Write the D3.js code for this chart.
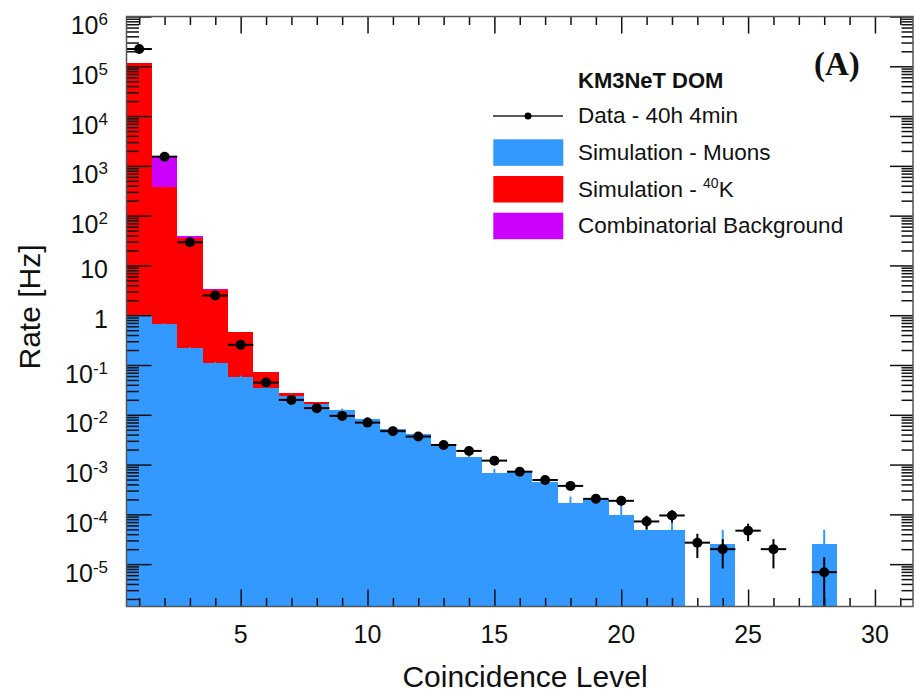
<!DOCTYPE html>
<html>
<head>
<meta charset="utf-8">
<script src="https://cdn.jsdelivr.net/npm/d3@7"></script>
<style>
  body { margin: 0; background: #fff; }
  svg { display: block; }
  text { font-family: "Liberation Sans", Arial, Helvetica, sans-serif; fill: #111; }
</style>
</head>
<body>
<svg id="chart"></svg>
<script>
// Coincidence levels (bin centres)
const levels = [1, 2, 3, 4, 5, 6, 7, 8, 9, 10, 11, 12, 13, 14, 15, 16,
                17, 18, 19, 20, 21, 22, 23, 24, 25, 26, 27, 28, 29, 30, 31];

// Simulation - muons [Hz]
const muons = [1.0, 0.67, 0.22, 0.11, 0.058, 0.035, 0.024, 0.0163, 0.0125, 0.0084,
               0.0051, 0.0041, 0.0024, 0.00145, 0.00067, 0.00076, 0.00044, 0.000173,
               0.0002, 9.8e-5, 4.9e-5, 4.9e-5, 0, 2.5e-5, 0, 0, 0, 2.5e-5, 0, 0, 0];
const muonErr = [0.02, 0.015, 0.008, 0.005, 0.003, 0.002, 0.0015, 0.001, 0.0008, 0.0006,
                 0.0004, 0.0003, 0.0002, 0.00006, 0.00015, 0.00012, 0.00008, 0.000055,
                 0.00005, 0.000065, 0.000029, 0.000029, 0, 0.000024, 0, 0, 0, 0.000024, 0, 0, 0];

// Simulation - 40K [Hz] (stacked on muons)
const k40 = [1.15e5, 381, 35.5, 3.1, 0.40, 0.039, 0.0039, 0.0016, 0, 0,
             0, 0, 0, 0, 0, 0, 0, 0, 0, 0, 0, 0, 0, 0, 0, 0, 0, 0, 0, 0, 0];

// Combinatorial background [Hz] (stacked on top)
const comb = [0, 1220, 3.4, 0.15, 0, 0, 0, 0, 0, 0,
              0, 0, 0, 0, 0, 0, 0, 0, 0, 0, 0, 0, 0, 0, 0, 0, 0, 0, 0, 0, 0];

// Data - 40h 4min [Hz]
const rate = [2.22e5, 1530, 29.2, 2.48, 0.254, 0.0444, 0.0199, 0.0136, 0.0095, 0.00697,
              0.00469, 0.00365, 0.00247, 0.00188, 0.0012, 0.00072, 0.00049, 0.000373,
              0.000205, 0.000187, 7.2e-5, 9.5e-5, 2.7e-5, 2.0e-5, 4.7e-5, 2.0e-5, null,
              6.9e-6, null, null, null];
const rateErr = [1.2, 0.1, 0.014, 0.004, 0.0013, 0.00055, 0.00037, 0.00031, 0.00026, 0.00022,
                 0.00018, 0.00016, 0.00013, 0.00011, 9.1e-5, 7.1e-5, 5.8e-5, 5.1e-5,
                 3.8e-5, 3.6e-5, 2.2e-5, 2.6e-5, 1.37e-5, 1.18e-5, 1.8e-5, 1.18e-5, null,
                 6.9e-6, null, null, null];

// Tick labels
const xTicks = [5, 10, 15, 20, 25, 30];
const yTickExp = [-5, -4, -3, -2, -1, 0, 1, 2, 3, 4, 5, 6];

// Legend
const legendTitle = "KM3NeT DOM";
const legendItems = [
  {key: "data", label: "Data - 40h 4min"},
  {key: "muons", label: "Simulation - Muons"},
  {key: "k40", label: "Simulation - ", sup: "40", after: "K"},
  {key: "comb", label: "Combinatorial Background"}
];

const colors = {muons: "#3399ff", k40: "#ff0000", comb: "#cc00ff"};

const width = 916, height = 694;
const margin = {top: 16.5, right: 3, bottom: 87.5, left: 126.5};
const yMin = 1.41e-6;

const svg = d3.select("#chart")
  .attr("width", width)
  .attr("height", height);

const x = d3.scaleLinear()
  .domain([0.5, 31.5])
  .range([margin.left, width - margin.right]);

const y = d3.scaleLog()
  .domain([yMin, 1e6])
  .range([height - margin.bottom, margin.top]);

// stacked histogram
const rows = levels.map((lv, i) => ({lv, muons: muons[i], k40: k40[i], comb: comb[i]}));
const stacked = d3.stack().keys(["muons", "k40", "comb"])(rows);

stacked.forEach(layer => {
  svg.append("g")
    .attr("fill", colors[layer.key])
    .attr("shape-rendering", "crispEdges")
    .selectAll("rect")
    .data(layer.filter(d => d[1] > d[0]))
    .enter().append("rect")
    .attr("x", d => x(d.data.lv - 0.5))
    .attr("width", d => x(d.data.lv + 0.5) - x(d.data.lv - 0.5))
    .attr("y", d => y(d[1]))
    .attr("height", d => y(Math.max(d[0], yMin)) - y(d[1]));
});

// MC errors on muons
svg.append("g")
  .selectAll("line")
  .data(levels.map((lv, i) => ({lv, v: muons[i], e: muonErr[i]})).filter(d => d.v > 0 && d.e > 0))
  .enter().append("line")
  .attr("x1", d => x(d.lv))
  .attr("x2", d => x(d.lv))
  .attr("y1", d => y(Math.max(d.v - d.e, yMin)))
  .attr("y2", d => y(d.v + d.e))
  .attr("stroke", colors.muons)
  .attr("stroke-width", 2);

// data points with error bars
const pts = levels.map((lv, i) => ({lv, v: rate[i], e: rateErr[i]})).filter(d => d.v != null);
const dataG = svg.append("g").attr("stroke", "#000").attr("stroke-width", 2);

dataG.selectAll(".hbar")
  .data(pts)
  .enter().append("line")
  .attr("x1", d => x(d.lv - 0.5))
  .attr("x2", d => x(d.lv + 0.5))
  .attr("y1", d => y(d.v))
  .attr("y2", d => y(d.v));

dataG.selectAll(".vbar")
  .data(pts)
  .enter().append("line")
  .attr("x1", d => x(d.lv))
  .attr("x2", d => x(d.lv))
  .attr("y1", d => y(Math.max(d.v - d.e, yMin)))
  .attr("y2", d => y(d.v + d.e));

svg.append("g")
  .selectAll("circle")
  .data(pts)
  .enter().append("circle")
  .attr("cx", d => x(d.lv))
  .attr("cy", d => y(d.v))
  .attr("r", 5)
  .attr("fill", "#000");

// axes (ticks pointing inwards, on all four sides)
const xMinor = levels.filter(v => !xTicks.includes(v));
const yMajor = yTickExp.map(e => Math.pow(10, e));
const yMinor = [];
for (let k = -6; k <= 5; k++) {
  for (let m = 2; m <= 9; m++) {
    const v = m * Math.pow(10, k);
    if (v > yMin && v < 1e6) yMinor.push(v);
  }
}

function addAxis(axis, tx, ty) {
  const g = svg.append("g")
    .attr("transform", `translate(${tx},${ty})`)
    .call(axis.tickFormat("").tickSizeOuter(0));
  g.select(".domain").remove();
  g.selectAll("line").attr("stroke", "#111").attr("stroke-width", 1.5);
}

const bottomY = height - margin.bottom, rightX = width - margin.right;
addAxis(d3.axisBottom(x).tickValues(xTicks).tickSizeInner(-17), 0, bottomY);
addAxis(d3.axisBottom(x).tickValues(xMinor).tickSizeInner(-8.5), 0, bottomY);
addAxis(d3.axisTop(x).tickValues(xTicks).tickSizeInner(-17), 0, margin.top);
addAxis(d3.axisTop(x).tickValues(xMinor).tickSizeInner(-8.5), 0, margin.top);
addAxis(d3.axisLeft(y).tickValues(yMajor).tickSizeInner(-25), margin.left, 0);
addAxis(d3.axisLeft(y).tickValues(yMinor).tickSizeInner(-12.5), margin.left, 0);
addAxis(d3.axisRight(y).tickValues(yMajor).tickSizeInner(-23), rightX, 0);
addAxis(d3.axisRight(y).tickValues(yMinor).tickSizeInner(-11.5), rightX, 0);

// frame
svg.append("rect")
  .attr("x", margin.left)
  .attr("y", margin.top)
  .attr("width", rightX - margin.left)
  .attr("height", bottomY - margin.top)
  .attr("fill", "none")
  .attr("stroke", "#555")
  .attr("stroke-width", 1.5);

// x tick labels
svg.append("g")
  .selectAll("text")
  .data(xTicks)
  .enter().append("text")
  .attr("x", d => x(d))
  .attr("y", bottomY + 36.5)
  .attr("text-anchor", "middle")
  .style("font-size", "25px")
  .text(d => d);

// y tick labels: 1, 10, 10^n
const yLab = svg.append("g")
  .selectAll("text")
  .data(yTickExp)
  .enter().append("text")
  .attr("x", 108)
  .attr("y", e => y(Math.pow(10, e)) + (e === 0 || e === 1 ? 13 : 17.5))
  .attr("text-anchor", "end")
  .style("font-size", "25px");

yLab.each(function(e) {
  const t = d3.select(this);
  if (e === 0) { t.text("1"); return; }
  t.append("tspan").text("10");
  if (e !== 1) {
    t.append("tspan").attr("dy", -9).style("font-size", "17px").text(e);
  }
});

// axis titles
svg.append("text")
  .attr("x", 525)
  .attr("y", 687)
  .attr("text-anchor", "middle")
  .style("font-size", "30px")
  .text("Coincidence Level");

svg.append("text")
  .attr("transform", "rotate(-90)")
  .attr("x", -307)
  .attr("y", 40)
  .attr("text-anchor", "middle")
  .style("font-size", "30px")
  .text("Rate [Hz]");

// panel label
svg.append("text")
  .attr("x", 814)
  .attr("y", 75)
  .style("font-family", "'Liberation Serif', 'Times New Roman', serif")
  .style("font-weight", "bold")
  .style("font-size", "33px")
  .text("(A)");

// legend
svg.append("text")
  .attr("x", 578)
  .attr("y", 87.5)
  .style("font-weight", "bold")
  .style("font-size", "22px")
  .text(legendTitle);

const legend = svg.selectAll(".legend")
  .data(legendItems)
  .enter().append("g")
  .attr("class", "legend")
  .attr("transform", (d, i) => `translate(0, ${123.3 + i * 36.7})`);

legend.each(function(d) {
  const g = d3.select(this);
  if (d.key === "data") {
    g.append("line")
      .attr("x1", 493).attr("x2", 563)
      .attr("y1", -7.3).attr("y2", -7.3)
      .attr("stroke", "#222").attr("stroke-width", 1.5);
    g.append("circle")
      .attr("cx", 528).attr("cy", -7.3).attr("r", 3.5)
      .attr("fill", "#000");
  } else {
    g.append("rect")
      .attr("x", 493.3).attr("y", -20.7)
      .attr("width", 70).attr("height", 26.5)
      .attr("fill", colors[d.key]);
  }
  const t = g.append("text")
    .attr("x", 578)
    .attr("y", 0)
    .style("font-size", "22.5px")
    .text(d.label);
  if (d.sup) {
    t.append("tspan").attr("dy", -9).style("font-size", "14px").text(d.sup);
    t.append("tspan").attr("dy", 9).text(d.after);
  }
});
</script>
</body>
</html>
